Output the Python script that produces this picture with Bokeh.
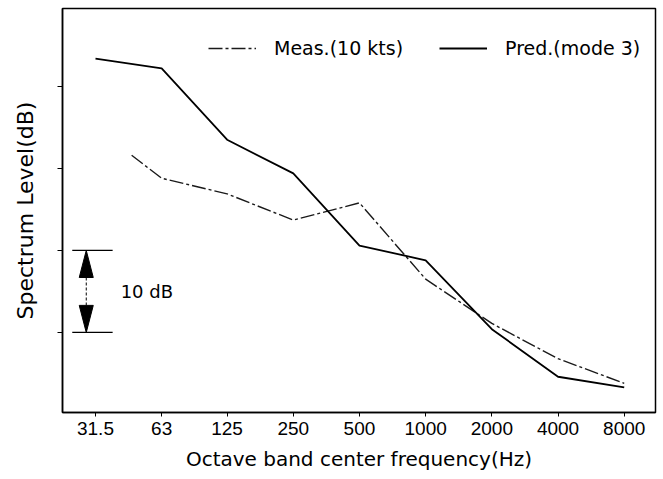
import numpy as np
from bokeh.plotting import figure
from bokeh.models import FixedTicker
from bokeh.core.properties import value
from bokeh.embed import file_html
from bokeh.resources import INLINE

# ---- data ----
bands = [31.5, 63, 125, 250, 500, 1000, 2000, 4000, 8000]
band_labels = ["31.5", "63", "125", "250", "500", "1000", "2000", "4000", "8000"]
pred_freq = [31.5, 63, 125, 250, 500, 1000, 2000, 4000, 8000]
pred_db = [43.4, 42.2, 33.5, 29.4, 20.6, 18.8, 10.4, 4.6, 3.3]
meas_freq = [46, 63, 125, 250, 500, 1000, 2000, 4000, 8000]
meas_db = [31.6, 28.8, 26.9, 23.7, 25.8, 16.5, 11.1, 6.8, 3.8]
y_ticks = [10, 20, 30, 40]
scale_bar_db = [10, 20]          # 10 dB scale bracket
scale_bar_label = "10 dB"
x_title = "Octave band center frequency(Hz)"
y_title = "Spectrum Level(dB)"

# annotation placement (frequency units on log axis)
bar_x0, bar_x1 = 24.7, 37.7
arrow_x = 28.6
head_half = 0.106   # octaves
head_len = 3.3      # dB
label_x = 41.0
X_RANGE = (22.3, 11100)

p = figure(width=662, height=478, output_backend="svg", toolbar_location=None,
           x_axis_type="log", x_range=X_RANGE, y_range=(0.24, 49.5),
           min_border_left=62, min_border_right=7, min_border_top=8,
           min_border_bottom=66)
p.background_fill_color = "white"
p.border_fill_color = "white"
p.grid.visible = False
p.outline_line_color = "black"
p.outline_line_width = 1.5

# lines
p.line(meas_freq, meas_db, line_color="#1a1a1a", line_width=1.4,
       line_dash="14 3 3 3", legend_label="Meas.(10 kts)")
p.line(pred_freq, pred_db, line_color="black", line_width=1.8,
       legend_label="Pred.(mode 3)")

# 10 dB bracket
lo, hi = scale_bar_db
p.segment(x0=[bar_x0, bar_x0], y0=[lo, hi], x1=[bar_x1, bar_x1], y1=[lo, hi],
          line_color="black", line_width=1.3)
hl = 2 ** head_half
p.patches(xs=[[arrow_x, arrow_x / hl, arrow_x * hl], [arrow_x, arrow_x / hl, arrow_x * hl]],
          ys=[[hi, hi - head_len, hi - head_len], [lo, lo + head_len, lo + head_len]],
          fill_color="black", line_color="black")
p.segment(x0=[arrow_x], y0=[hi - head_len], x1=[arrow_x], y1=[lo + head_len],
          line_color="black", line_width=1, line_dash="3 2")
p.text(x=[label_x], y=[(lo + hi) / 2], text=[scale_bar_label],
       text_font=value("DejaVu Sans"), text_font_size="18px",
       text_baseline="middle", text_align="left", text_color="black")

# x axis
xa = p.xaxis[0]
xa.ticker = FixedTicker(ticks=bands, minor_ticks=[])
xa.major_label_overrides = {b: l for b, l in zip(bands, band_labels)}
xa.major_label_text_font = "Liberation Sans"
xa.major_label_text_font_size = "19px"
xa.major_label_text_color = "black"
xa.major_tick_in = 0
xa.major_tick_out = 4
xa.minor_tick_out = 0
xa.minor_tick_in = 0
xa.major_label_standoff = 5
xa.axis_line_width = 1.5
xa.axis_label = x_title
xa.axis_label_text_font = "DejaVu Sans"
xa.axis_label_text_font_size = "20px"
xa.axis_label_text_font_style = "normal"
xa.axis_label_text_color = "black"
xa.axis_label_standoff = 9

# y axis (ticks only, no numbers)
ya = p.yaxis[0]
ya.ticker = FixedTicker(ticks=y_ticks, minor_ticks=[])
ya.major_label_overrides = {t: "" for t in y_ticks}
ya.major_label_standoff = 0
ya.major_tick_in = 0
ya.major_tick_out = 5
ya.minor_tick_out = 0
ya.axis_line_width = 1.5
ya.axis_label = y_title
ya.axis_label_text_font = "DejaVu Sans"
ya.axis_label_text_font_size = "22px"
ya.axis_label_text_font_style = "normal"
ya.axis_label_text_color = "black"
ya.axis_label_standoff = 20

# legend
lg = p.legend[0]
lg.orientation = "horizontal"
lg.location = (146, 353)
lg.border_line_color = None
lg.background_fill_alpha = 0
lg.label_text_font = "DejaVu Sans"
lg.label_text_font_size = "19px"
lg.label_text_color = "black"
lg.glyph_width = 48
lg.label_standoff = 18
lg.spacing = 36
lg.padding = 5
lg.margin = 0

open("out.html", "w").write(file_html(p, INLINE))
